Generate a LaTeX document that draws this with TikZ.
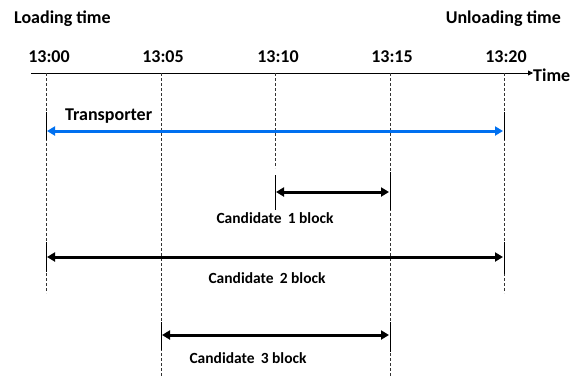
\documentclass[tikz,border=0pt]{standalone}
\usepackage{fontspec}
\setmainfont{Carlito}
\usetikzlibrary{arrows.meta}
\begin{document}
\begin{tikzpicture}[x=1pt,y=-1pt,
  lbl/.style={font=\bfseries\fontsize{18}{20}\selectfont, inner sep=0pt},
  clbl/.style={font=\bfseries\fontsize{15.5}{18}\selectfont, inner sep=0pt},
  guide/.style={densely dashed, black!80, line width=0.6pt},
  tick/.style={black, line width=0.8pt},
  span/.style={{Triangle[length=8pt,width=9pt]}-{Triangle[length=8pt,width=9pt]}, line width=3pt, shorten <=1pt, shorten >=1pt},
]
\useasboundingbox (0,0) rectangle (581,376);
% header labels
\node[lbl, anchor=west] (load) at (14,19) {Loading time};
\node[lbl, anchor=east] (unload) at (561,19) {Unloading time};
% time labels
\node[lbl] (t0) at (49,57) {13:00};
\node[lbl] (t5) at (163,57) {13:05};
\node[lbl] (t10) at (278,57) {13:10};
\node[lbl] (t15) at (392,57) {13:15};
\node[lbl] (t20) at (506,57) {13:20};
% axis
\coordinate (ax0) at (31,73);
\coordinate (ax1) at (533,73);
\node[lbl, anchor=west] (time) at (533,75) {Time};
\draw[line width=0.8pt, -{Triangle[length=5pt,width=5pt]}] (ax0) -- (ax1);
% guide lines
\coordinate (g0a) at (46,73);  \coordinate (g0b) at (46,293);
\coordinate (g5a) at (161,73); \coordinate (g5b) at (161,376);
\coordinate (g10a) at (275,73); \coordinate (g10b) at (275,168);
\coordinate (g15a) at (390,73); \coordinate (g15b) at (390,376);
\coordinate (g20a) at (504,73); \coordinate (g20b) at (504,293);
\draw[guide] (g0a) -- (g0b);
\draw[guide] (g5a) -- (g5b);
\draw[guide] (g10a) -- (g10b);
\draw[guide] (g15a) -- (g15b);
\draw[guide] (g20a) -- (g20b);
% solid ticks
\draw[tick] (46,112) -- (46,140);
\draw[tick] (504,112) -- (504,140);
\draw[tick] (275,175) -- (275,210);
\draw[tick] (390,172) -- (390,210);
\draw[tick] (46,242) -- (46,272);
\draw[tick] (504,242) -- (504,274);
\draw[tick] (161,322) -- (161,350);
\draw[tick] (390,322) -- (390,352);
% transporter
\coordinate (tr0) at (46,131); \coordinate (tr1) at (504,131);
\draw[span, color={rgb,255:red,0;green,112;blue,240}] (tr0) -- (tr1);
\node[lbl, anchor=west] (trl) at (65,116) {Transporter};
% candidate 1
\coordinate (c1a) at (275,192); \coordinate (c1b) at (390,192);
\draw[span] (c1a) -- (c1b);
\node[clbl] (c1l) at (275,218) {Candidate\, 1 block};
% candidate 2
\coordinate (c2a) at (46,257); \coordinate (c2b) at (504,257);
\draw[span] (c2a) -- (c2b);
\node[clbl] (c2l) at (267,278) {Candidate\, 2 block};
% candidate 3
\coordinate (c3a) at (161,335); \coordinate (c3b) at (390,335);
\draw[span] (c3a) -- (c3b);
\node[clbl] (c3l) at (248,358) {Candidate\, 3 block};
\end{tikzpicture}
\end{document}
